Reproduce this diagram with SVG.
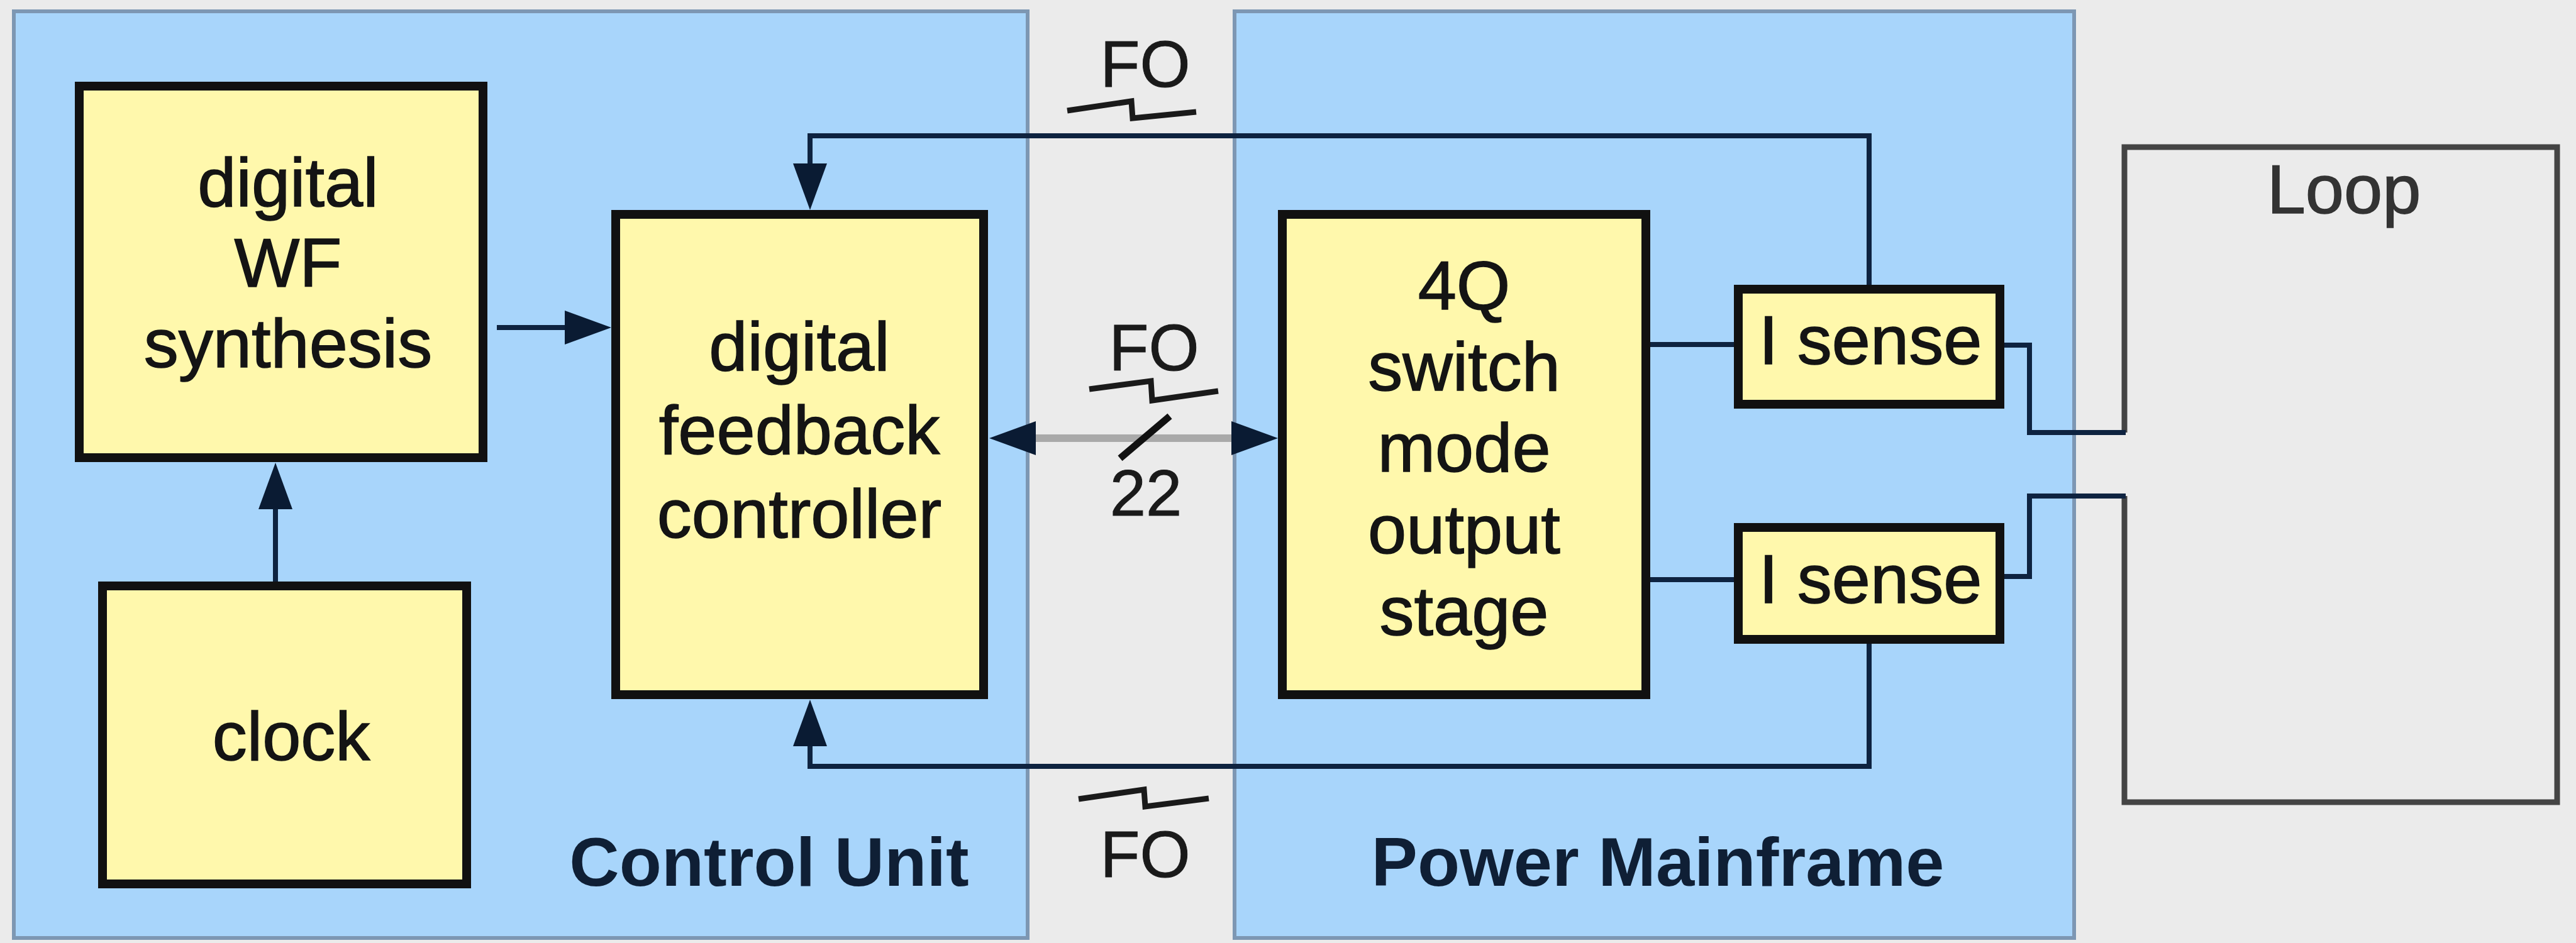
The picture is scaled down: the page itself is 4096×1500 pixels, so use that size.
<svg xmlns="http://www.w3.org/2000/svg" width="4096" height="1500" viewBox="0 0 4096 1500">
<defs>
<style>
.panel{fill:#a8d5fb;stroke:#7d97b3;stroke-width:6}
.box{fill:#fff8ac;stroke:#111;stroke-width:14}
.lbl{font-family:"Liberation Sans",Arial,sans-serif;font-size:110px;fill:#141414;stroke:#141414;stroke-width:1.5;text-anchor:middle}
.bold{font-family:"Liberation Sans",Arial,sans-serif;font-size:110px;font-weight:bold;fill:#0f1f35;text-anchor:middle}
.fo{font-family:"Liberation Sans",Arial,sans-serif;font-size:103px;fill:#1a1a1a;stroke:#1a1a1a;stroke-width:1;text-anchor:middle}
.wire{fill:none;stroke:#0e2340;stroke-width:8}
.sq{fill:none;stroke:#1a1a1a;stroke-width:9;stroke-linejoin:miter}
</style>
<marker id="ah" markerUnits="userSpaceOnUse" viewBox="0 0 74 54" refX="1" refY="27" markerWidth="74" markerHeight="54" orient="auto-start-reverse">
<path d="M0,0 L74,27 L0,54 Z" fill="#0a1b33"/>
</marker>
</defs>
<rect x="0" y="0" width="4096" height="1500" fill="#ebebeb"/>
<g id="control-unit">
<rect class="panel" x="22" y="18" width="1612" height="1474"/>
<text class="bold" x="1223" y="1409">Control Unit</text>
</g>
<g id="power-mainframe">
<rect class="panel" x="1963" y="18" width="1335" height="1474"/>
<text class="bold" x="2636" y="1409">Power Mainframe</text>
</g>
<g id="loop">
<path d="M3378,688 V234 H4066 V1276 H3378 V789" fill="none" stroke="#444" stroke-width="9"/>
<text class="lbl" x="3727" y="339" style="fill:#333;stroke:#333">Loop</text>
</g>
<g id="connectors">
<path class="wire" d="M790,521 H899" marker-end="url(#ah)"/>
<path class="wire" d="M438,930 V809" marker-end="url(#ah)"/>
<path class="wire" d="M2972,460 V216 H1288 V261" marker-end="url(#ah)"/>
<path class="wire" d="M2972,1017 V1219 H1288 V1186" marker-end="url(#ah)" stroke="#2f5070"/>
<path d="M1646,697 H1959" fill="none" stroke="#a9a9a9" stroke-width="12" marker-start="url(#ah)" marker-end="url(#ah)"/>
<path d="M1781,729 L1860,662" stroke="#111" stroke-width="11"/>
<path class="wire" d="M2617,548 H2764"/>
<path class="wire" d="M2617,922 H2764"/>
<path class="wire" d="M3180,549 H3227 V688 H3380"/>
<path class="wire" d="M3180,917 H3227 V789 H3380"/>
<path class="sq" d="M1697,176 L1799,161 L1801,188 L1902,178"/>
<path class="sq" d="M1732,619 L1830,606 L1832,637 L1937,622"/>
<path class="sq" d="M1715,1271 L1819,1256 L1821,1283 L1922,1270"/>
<text class="fo" x="1821" y="138">FO</text>
<text class="fo" x="1835" y="589">FO</text>
<text class="fo" x="1822" y="820">22</text>
<text class="fo" x="1821" y="1395">FO</text>
</g>
<g id="wf-synthesis">
<rect class="box" x="126" y="137" width="642" height="591"/>
<text class="lbl" x="458" y="328">digital</text>
<text class="lbl" x="458" y="456">WF</text>
<text class="lbl" x="458" y="584">synthesis</text>
</g>
<g id="clock">
<rect class="box" x="163" y="932" width="579" height="474"/>
<text class="lbl" x="463" y="1209">clock</text>
</g>
<g id="feedback-controller">
<rect class="box" x="979" y="341" width="585" height="764"/>
<text class="lbl" x="1271" y="589">digital</text>
<text class="lbl" x="1271" y="722">feedback</text>
<text class="lbl" x="1271" y="855">controller</text>
</g>
<g id="output-stage">
<rect class="box" x="2039" y="341" width="578" height="764"/>
<text class="lbl" x="2328" y="492">4Q</text>
<text class="lbl" x="2328" y="621">switch</text>
<text class="lbl" x="2328" y="750">mode</text>
<text class="lbl" x="2328" y="880">output</text>
<text class="lbl" x="2328" y="1010">stage</text>
</g>
<g id="i-sense-top">
<rect class="box" x="2764" y="460" width="416" height="183"/>
<text class="lbl" x="2974" y="579">I sense</text>
</g>
<g id="i-sense-bottom">
<rect class="box" x="2764" y="839" width="416" height="178"/>
<text class="lbl" x="2974" y="959">I sense</text>
</g>
</svg>
